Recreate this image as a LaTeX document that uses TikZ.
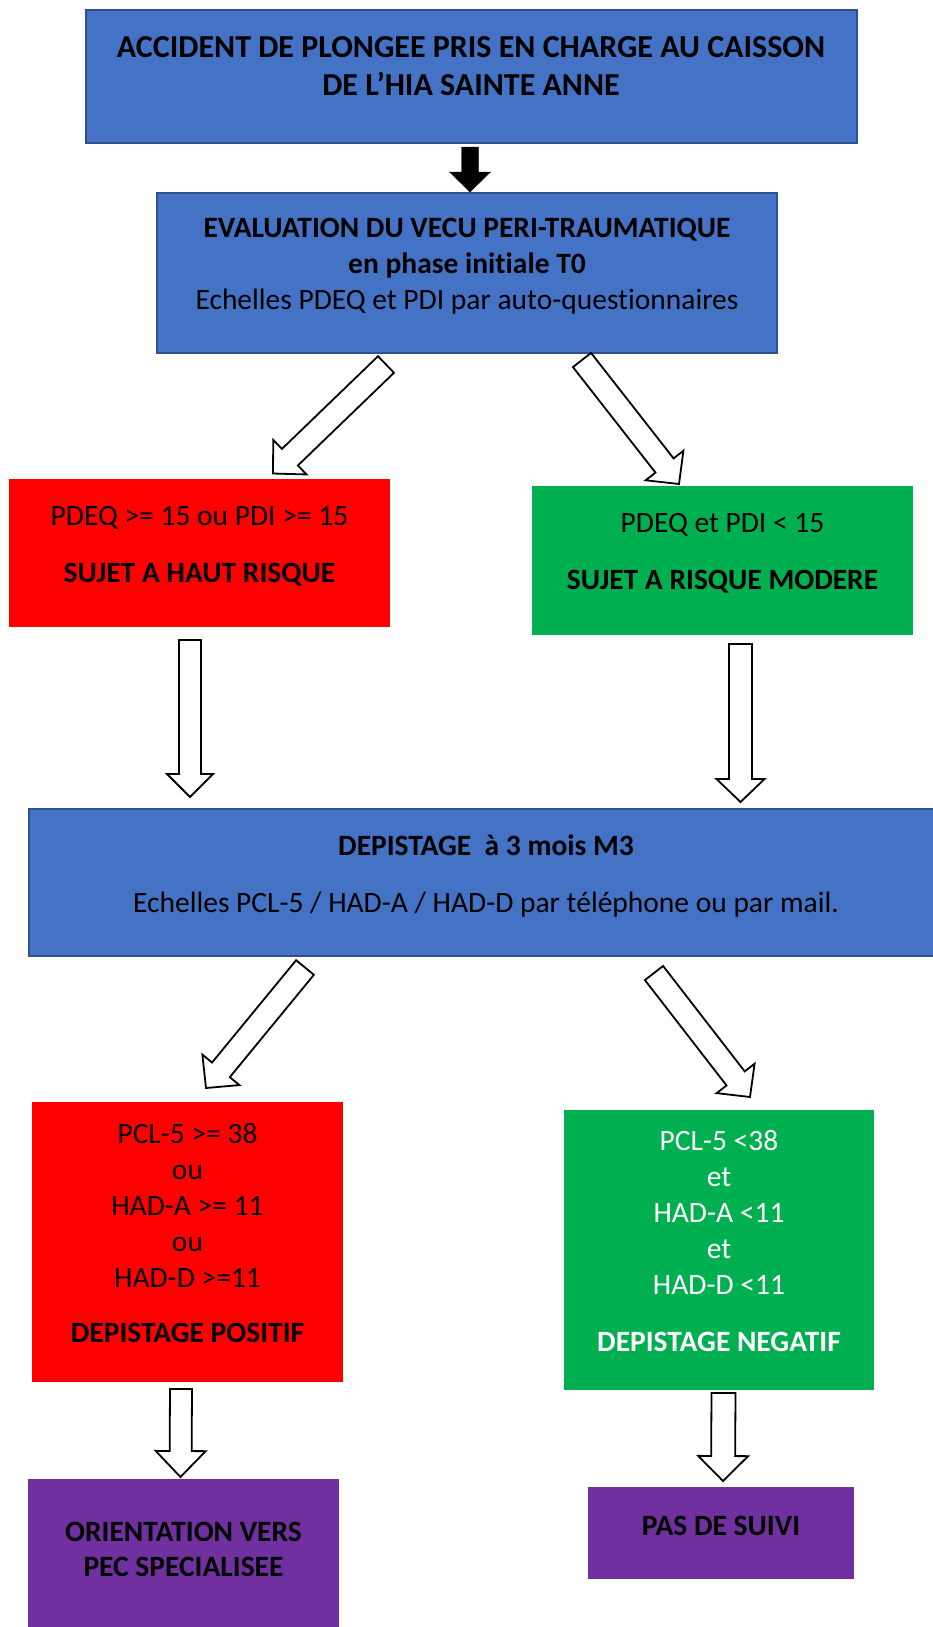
\documentclass[tikz,border=0pt]{standalone}
\usepackage{fontspec}
\setmainfont{Carlito}[Ligatures={TeX,NoCommon}]
\usetikzlibrary{calc,fit,positioning}
\definecolor{boxblue}{HTML}{4472C4}
\definecolor{boxedge}{HTML}{2F528F}
\definecolor{riskred}{HTML}{FF0000}
\definecolor{riskgreen}{HTML}{00B050}
\definecolor{followpurple}{HTML}{7030A0}
\tikzset{
  box/.style={inner sep=0pt, outer sep=0pt},
  bluebox/.style={box, fill=boxblue, draw=boxedge, line width=1.6pt},
  redbox/.style={box, fill=riskred},
  greenbox/.style={box, fill=riskgreen},
  purplebox/.style={box, fill=followpurple},
  txt/.style={align=center, anchor=base, inner sep=0pt, font=\fontsize{29.5}{36}\selectfont},
  bigtxt/.style={txt, font=\fontsize{32}{39}\selectfont},
  hollow/.style={draw=black, fill=white, line width=1.8pt, line join=miter},
  blackarrow/.style={draw=black, fill=black, line join=miter}
}
% block arrow: style, tail, tip, half shaft, half head, head length
\newcommand{\fatarrow}[6]{%
  \coordinate (hb) at ($(#3)!#6!(#2)$);
  \draw[#1] ($(#2)!#4!90:(#3)$) -- ($(hb)!#4!-90:(#2)$) -- ($(hb)!#5!-90:(#2)$)
    -- (#3) -- ($(hb)!#5!90:(#2)$) -- ($(hb)!#4!90:(#2)$) -- ($(#2)!#4!-90:(#3)$) -- cycle;
}

\begin{document}
\begin{tikzpicture}[x=1pt,y=-1pt]
  \useasboundingbox (0,0) rectangle (933,1627);
  \clip (0,0) rectangle (933,1627);

  % boxes
  \node[bluebox, fit={(86,10) (857,143)}] (accident) {};
  \node[bluebox, fit={(157,193) (777,353)}] (eval) {};
  \node[redbox, fit={(9,479) (390,627)}] (highrisk) {};
  \node[greenbox, fit={(532,486) (913,635)}] (modrisk) {};
  \node[bluebox, fit={(29,809) (945,956)}] (screen) {};
  \node[redbox, fit={(32,1102) (343,1382)}] (positive) {};
  \node[greenbox, fit={(564,1110) (874,1390)}] (negative) {};
  \node[purplebox, fit={(28,1479) (339,1640)}] (orient) {};
  \node[purplebox, fit={(588,1487) (854,1579)}] (nofollow) {};

  % texts (anchored at the baseline of the last line)
  \node[bigtxt] (accidentt) at (471,96) {\textbf{ACCIDENT DE PLONGEE PRIS EN CHARGE AU CAISSON}\\\textbf{DE L’HIA SAINTE ANNE}};
  \node[txt] (evalt) at (467,309) {\textbf{EVALUATION DU VECU PERI-TRAUMATIQUE}\\\textbf{en phase initiale T0}\\Echelles PDEQ et PDI par auto-questionnaires};
  \node[txt] (highriskt) at (199.5,582) {PDEQ >= 15 ou PDI >= 15\\[21pt]\textbf{SUJET A HAUT RISQUE}};
  \node[txt] (modriskt) at (722.5,589) {PDEQ et PDI < 15\\[21pt]\textbf{SUJET A RISQUE MODERE}};
  \node[txt] (screent) at (486,912) {\textbf{DEPISTAGE\ \ à 3 mois M3}\\[21pt]Echelles PCL-5 / HAD-A / HAD-D par téléphone ou par mail.};
  \node[txt] (positivet) at (187.5,1342) {PCL-5 >= 38\\ou\\HAD-A >= 11\\ou\\HAD-D >=11\\[19pt]\textbf{DEPISTAGE POSITIF}};
  \node[txt, text=white] (negativet) at (719,1351) {PCL-5 <38\\et\\HAD-A <11\\et\\HAD-D <11\\[21pt]\textbf{DEPISTAGE NEGATIF}};
  \node[txt] (orientt) at (183.5,1576) {\textbf{ORIENTATION VERS}\\[-1pt]\textbf{PEC SPECIALISEE}};
  \node[txt] (nofollowt) at (721,1535) {\textbf{PAS DE SUIVI}};

  % arrow ends
  \coordinate (a1s) at (470,147);   \coordinate (a1e) at (470,192);
  \coordinate (a2s) at (386,364.5); \coordinate (a2e) at (273,473.5);
  \coordinate (a3s) at (582,360);   \coordinate (a3e) at (679,484);
  \coordinate (a4s) at (190,640);   \coordinate (a4e) at (190,797);
  \coordinate (a5s) at (740.5,644); \coordinate (a5e) at (740.5,802);
  \coordinate (a6s) at (305,967.5); \coordinate (a6e) at (206,1088);
  \coordinate (a7s) at (654,973);   \coordinate (a7e) at (750,1097);
  \coordinate (a8s) at (181,1389);  \coordinate (a8e) at (180.5,1477);
  \coordinate (a9s) at (723.5,1393);\coordinate (a9e) at (723,1481);

  \fatarrow{blackarrow}{a1s}{a1e}{8.5pt}{20.5pt}{20pt}
  \fatarrow{hollow}{a2s}{a2e}{11.5pt}{24pt}{23.5pt}
  \fatarrow{hollow}{a3s}{a3e}{11.5pt}{24pt}{23.5pt}
  \fatarrow{hollow}{a4s}{a4e}{11pt}{23pt}{23pt}
  \fatarrow{hollow}{a5s}{a5e}{11.5pt}{24pt}{23pt}
  \fatarrow{hollow}{a6s}{a6e}{11.5pt}{24pt}{23.5pt}
  \fatarrow{hollow}{a7s}{a7e}{11.5pt}{24pt}{23.5pt}
  \fatarrow{hollow}{a8s}{a8e}{11pt}{25pt}{26pt}
  \fatarrow{hollow}{a9s}{a9e}{12pt}{25pt}{25pt}
\end{tikzpicture}
\end{document}
